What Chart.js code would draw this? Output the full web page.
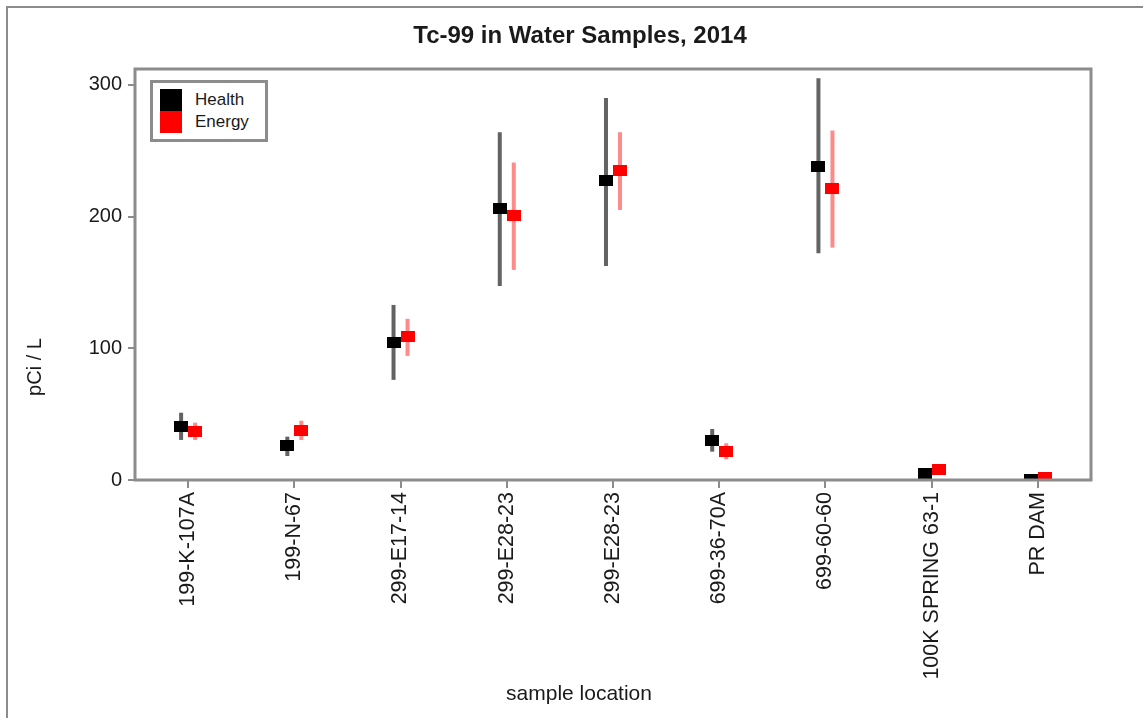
<!DOCTYPE html>
<html>
<head>
<meta charset="utf-8">
<script src="https://cdn.jsdelivr.net/npm/chart.js@4.4.1/dist/chart.umd.min.js"></script>
<style>
  html, body { margin: 0; padding: 0; background: #fff; }
  #wrap { position: relative; width: 1143px; height: 718px; overflow: hidden; background: #fff; }
  #frame { position: absolute; left: 6px; top: 6px; right: -10px; bottom: -10px;
           border-left: 2px solid #8c8c8c; border-top: 2px solid #8c8c8c; pointer-events: none; }
  #chartBox { position: absolute; left: 0; top: 0; width: 1143px; height: 718px; }
  #legend { position: absolute; left: 150px; top: 80px; width: 112px; height: 56px;
            border: 3px solid #8c8c8c; background: #fff;
            font-family: "Liberation Sans", Arial, sans-serif; font-size: 17px; color: #1a1a1a; }
  .row { position: absolute; left: 7px; height: 22px; line-height: 22px; }
  .sw { position: absolute; left: 0; top: 0; width: 22px; height: 22px; }
  .lt { position: absolute; left: 35px; top: 0; white-space: nowrap; }
</style>
</head>
<body>
<div id="wrap">
  <div id="chartBox"><canvas id="c"></canvas></div>
  <div id="frame"></div>
  <div id="legend">
    <div class="row" style="top:6px"><div class="sw" style="background:#000"></div><div class="lt">Health</div></div>
    <div class="row" style="top:28px"><div class="sw" style="background:#ff0000"></div><div class="lt">Energy</div></div>
  </div>
</div>
<script>
// ---- data ----
const categories = ['199-K-107A', '199-N-67', '299-E17-14', '299-E28-23', '299-E28-23',
                    '699-36-70A', '699-60-60', '100K SPRING 63-1', 'PR DAM'];
const healthValues = [40.5, 26.4, 104.6, 205.8, 227, 29.8, 237.7, 4.7, 0.5];
const healthLow    = [30.4, 18.2, 76, 147.3, 162.5, 21.5, 172.2, 3.5, 0];
const healthHigh   = [51.1, 32.9, 132.9, 264, 290, 38.7, 305, 6, 1.5];
const energyValues = [37, 37.7, 108.6, 201, 234.7, 21.8, 221, 7.6, 1.9];
const energyLow    = [30.4, 30.4, 94.2, 159.5, 205, 15.7, 176.4, 5.8, 0.8];
const energyHigh   = [43.5, 45, 122.3, 241, 264, 27.9, 265.3, 9.2, 3];
const yTicks = [0, 100, 200, 300];

const FONT = '"Liberation Sans", Arial, sans-serif';
const SHIFT = 0.066; // side-by-side dodge of the two series, in category units

function markerImage(color) {
  const cv = document.createElement('canvas');
  cv.width = 14; cv.height = 11;
  const g = cv.getContext('2d');
  g.fillStyle = color;
  g.fillRect(0, 0, 14, 11);
  return cv;
}

function pts(values, lo, hi, shift) {
  return values.map((v, i) => ({ x: i + shift, y: v, lo: lo[i], hi: hi[i] }));
}

const errorBars = {
  id: 'errorBars',
  beforeDatasetsDraw(chart) {
    const { ctx, chartArea: a, scales: { x, y } } = chart;
    ctx.save();
    ctx.beginPath();
    ctx.rect(a.left, a.top, a.right - a.left, a.bottom - a.top);
    ctx.clip();
    chart.data.datasets.forEach((ds) => {
      ctx.strokeStyle = ds.errorColor;
      ctx.lineWidth = 4;
      ds.data.forEach((p) => {
        const px = x.getPixelForValue(p.x);
        ctx.beginPath();
        ctx.moveTo(px, y.getPixelForValue(p.lo));
        ctx.lineTo(px, y.getPixelForValue(p.hi));
        ctx.stroke();
      });
    });
    ctx.restore();
  }
};

const frameAndTitles = {
  id: 'frameAndTitles',
  afterDatasetsDraw(chart) {
    const { ctx, chartArea: a } = chart;
    ctx.save();
    ctx.strokeStyle = '#8c8c8c';
    ctx.lineWidth = 3;
    ctx.strokeRect(a.left, a.top, a.right - a.left, a.bottom - a.top);
    ctx.restore();
  },
  afterDraw(chart) {
    const { ctx } = chart;
    ctx.save();
    ctx.fillStyle = '#1a1a1a';
    ctx.textAlign = 'center';
    ctx.textBaseline = 'middle';
    ctx.font = 'bold 24px ' + FONT;
    ctx.fillText('Tc-99 in Water Samples, 2014', 580, 36);
    ctx.font = '21px ' + FONT;
    ctx.fillText('sample location', 579, 694);
    ctx.translate(35, 367);
    ctx.rotate(-Math.PI / 2);
    ctx.font = '20px ' + FONT;
    ctx.fillText('pCi / L', 0, 0);
    ctx.restore();
  }
};

new Chart(document.getElementById('c'), {
  type: 'scatter',
  data: {
    datasets: [
      { label: 'Health', data: pts(healthValues, healthLow, healthHigh, -SHIFT),
        pointStyle: markerImage('#000000'), pointRadius: 7, pointHoverRadius: 7,
        errorColor: 'rgba(60,60,60,0.8)', clip: 0 },
      { label: 'Energy', data: pts(energyValues, energyLow, energyHigh, SHIFT),
        pointStyle: markerImage('#ff0000'), pointRadius: 7, pointHoverRadius: 7,
        errorColor: 'rgba(255,60,60,0.6)', clip: 0 }
    ]
  },
  options: {
    responsive: true,
    maintainAspectRatio: false,
    animation: false,
    layout: { padding: { left: 0, right: 52, top: 69, bottom: 0 } },
    plugins: { legend: { display: false }, title: { display: false }, tooltip: { enabled: false } },
    scales: {
      x: {
        type: 'linear',
        min: -0.5,
        max: categories.length - 0.5,
        afterBuildTicks: (s) => { s.ticks = categories.map((_, i) => ({ value: i })); },
        afterFit: (s) => { s.height = 238; },
        grid: { display: true, drawOnChartArea: false, drawTicks: true, tickLength: 8, color: '#8c8c8c', lineWidth: 2 },
        border: { display: false },
        ticks: {
          autoSkip: false, minRotation: 90, maxRotation: 90, padding: 4,
          color: '#1a1a1a', font: { family: FONT, size: 21.5 },
          callback: (v) => categories[Math.round(v)]
        },
        title: { display: false }
      },
      y: {
        min: 0,
        max: 312,
        afterBuildTicks: (s) => { s.ticks = yTicks.map((v) => ({ value: v })); },
        afterFit: (s) => { s.width = 135; },
        grid: { display: true, drawOnChartArea: false, drawTicks: true, tickLength: 7, color: '#8c8c8c', lineWidth: 2 },
        border: { display: false },
        ticks: { padding: 6, color: '#1a1a1a', font: { family: FONT, size: 20 } },
        title: { display: false }
      }
    }
  },
  plugins: [errorBars, frameAndTitles]
});
</script>
</body>
</html>
